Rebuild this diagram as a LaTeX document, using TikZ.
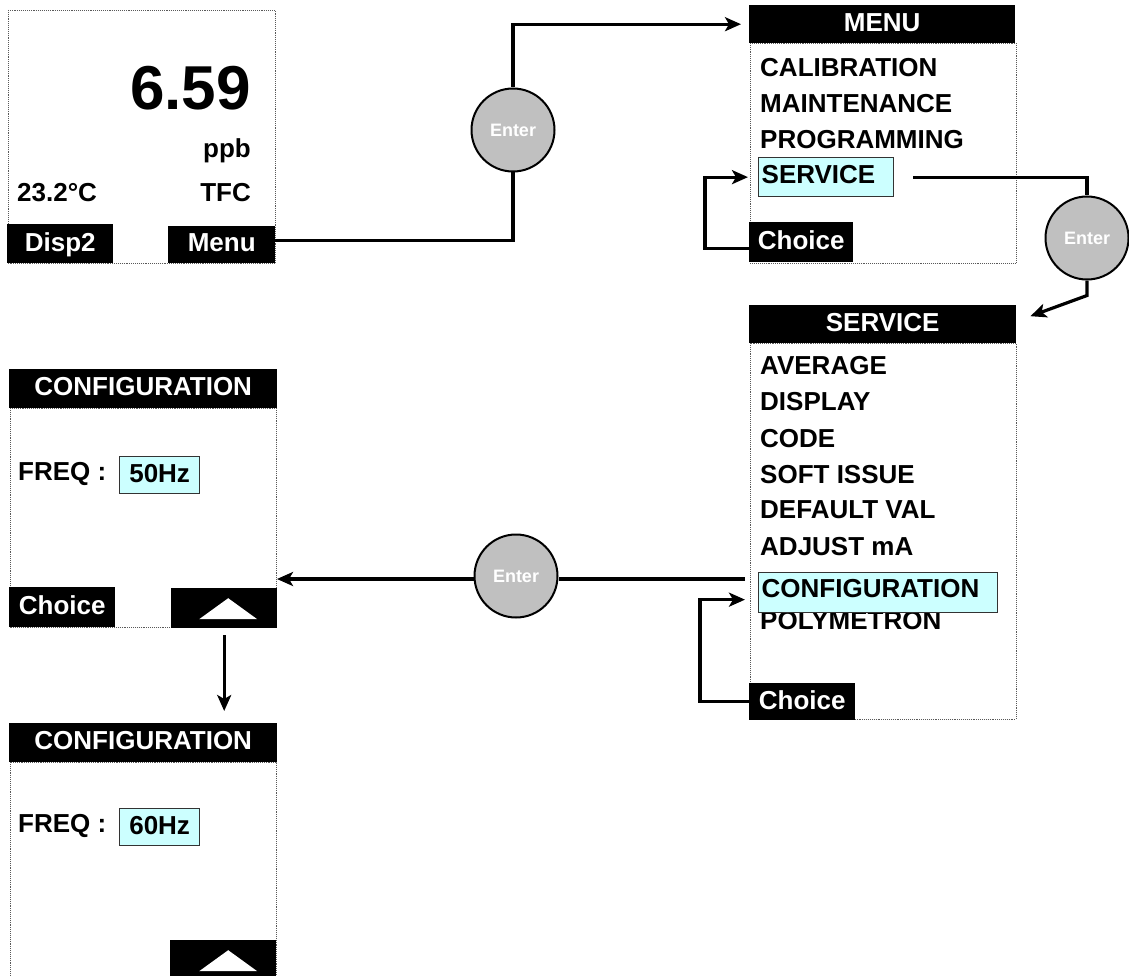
\documentclass[tikz,border=0pt]{standalone}
\usepackage{fontspec}
\setmainfont{Liberation Sans}
\usetikzlibrary{arrows.meta,positioning}
\definecolor{hilite}{HTML}{CCFFFF}
\definecolor{keygray}{HTML}{C0C0C0}

\begin{document}
\begin{tikzpicture}[x=1pt, y=-1pt,
  every node/.style={font=\fontsize{26}{30}\selectfont\bfseries},
  frame/.style={draw=black!65, densely dotted, line width=0.9pt},
  bar/.style={fill=black, text=white, inner sep=0pt, anchor=north west, text depth=4pt},
  item/.style={anchor=base west, inner sep=0pt},
  sel/.style={draw=black!80, fill=hilite, line width=1.3pt, anchor=north west, align=left, inner xsep=3pt, inner ysep=0pt},
  val/.style={draw=black!80, fill=hilite, line width=1.3pt, anchor=north west, inner sep=0pt, minimum width=80pt, minimum height=37pt, text depth=3pt},
  key/.style={circle, draw=black, line width=2pt, fill=keygray, text=white, inner sep=0pt, minimum size=83pt, font=\fontsize{18}{20}\selectfont\bfseries},
  wire/.style={line width=3.2pt},
  tip/.style={-{Stealth[length=16pt, width=14pt, inset=4pt]}}]
\useasboundingbox (0,0) rectangle (1129,976);
% measuring screen
\draw[frame] (8,10) rectangle (275,263);
\node[anchor=base east, inner sep=0pt, font=\fontsize{62}{68}\selectfont\bfseries] (reading) at (251,110) {6.59};
\node[item, anchor=base east] (unit) at (251,158) {ppb};
\node[item] (temp) at (17,202) {23.2°C};
\node[item, anchor=base east] (mode) at (251,202) {TFC};
\node[bar, minimum width=106pt, minimum height=39pt] (disp) at (7,224) {Disp2};
\node[bar, minimum width=107pt, minimum height=37pt] (menukey) at (168,226) {Menu};
% MENU screen
\node[bar, minimum width=266pt, minimum height=38pt] (menuhead) at (749,5) {MENU};
\draw[frame] (750,43) rectangle (1016,263);
\foreach \t/\yy [count=\i] in {CALIBRATION/77, MAINTENANCE/113, PROGRAMMING/149}
  \node[item] (mn\i) at (760,\yy) {\t};
\node[sel, text width=129pt, minimum height=39pt, text depth=6pt] (selA) at (758,157) {SERVICE};
\node[bar, minimum width=104pt, minimum height=40pt] (choiceA) at (749,222) {Choice};
% SERVICE screen
\node[bar, minimum width=267pt, minimum height=38pt] (svchead) at (749,305) {SERVICE};
\draw[frame] (750,343) rectangle (1016,719);
\foreach \t/\yy [count=\i] in {AVERAGE/374, DISPLAY/410, CODE/447, SOFT ISSUE/483, DEFAULT VAL/518, ADJUST mA/555, POLYMETRON/629}
  \node[item] (sv\i) at (760,\yy) {\t};
\node[sel, text width=233pt, minimum height=40pt, text depth=9pt] (selB) at (758,572) {CONFIGURATION};
\node[bar, minimum width=106pt, minimum height=37pt] (choiceB) at (749,683) {Choice};
% CONFIGURATION, 50Hz
\node[bar, minimum width=268pt, minimum height=39pt] (cfghead) at (9,369) {CONFIGURATION};
\draw[frame] (10,408) rectangle (276,627);
\node[item] (freqA) at (18,480) {FREQ :};
\node[val] (hzA) at (119,456) {50Hz};
\node[bar, minimum width=106pt, minimum height=40pt] (choiceC) at (9,587) {Choice};
\node[bar, minimum width=106pt, minimum height=40pt] (upA) at (171,588) {};
\fill[white] (upA.center) ++(4,-10) -- ++(29,21) -- ++(-58,0) -- cycle;
% CONFIGURATION, 60Hz
\node[bar, minimum width=268pt, minimum height=39pt] (cfghead2) at (9,723) {CONFIGURATION};
\draw[frame] (10,762) rectangle (276,990);
\node[item] (freqB) at (18,832) {FREQ :};
\node[val] (hzB) at (119,808) {60Hz};
\node[bar, minimum width=106pt, minimum height=40pt] (upB) at (170,940) {};
\fill[white] (upB.center) ++(5,-10) -- ++(29,21) -- ++(-58,0) -- cycle;
% Enter keys
\node[key] (enterA) at (513,130) {Enter};
\node[key] (enterB) at (1087,238) {Enter};
\node[key] (enterC) at (516,576) {Enter};
\coordinate (svcout) at (745,579);
\coordinate (cfgin) at (277,579);
% connectors
\draw[wire] ([yshift=4pt]menukey.east) -| (enterA.south);
\draw[wire, tip, shorten >=8pt] (enterA.north) |- (menuhead.west);
\draw[wire, tip] ([yshift=-6pt]choiceA.west) -- ++(-44,0) |- ([xshift=-10pt]selA.west);
\draw[wire] ([xshift=19pt]selA.east) -| (enterB.north);
\draw[wire, tip] (enterB.south) -- ++(0,15) -- ([xshift=14pt, yshift=8pt]svchead.east);
\draw[wire] (svcout) -- (svcout -| enterC.east);
\draw[wire, tip] (enterC.west |- svcout) -- (cfgin);
\draw[wire, tip] (choiceB.west) -- ++(-49,0) |- ([xshift=-13pt, yshift=-7pt]selB.west);
\draw[wire, tip, shorten <=7pt, shorten >=12pt] (upA.south) -- (cfghead2.north -| upA.south);
\end{tikzpicture}
\end{document}
